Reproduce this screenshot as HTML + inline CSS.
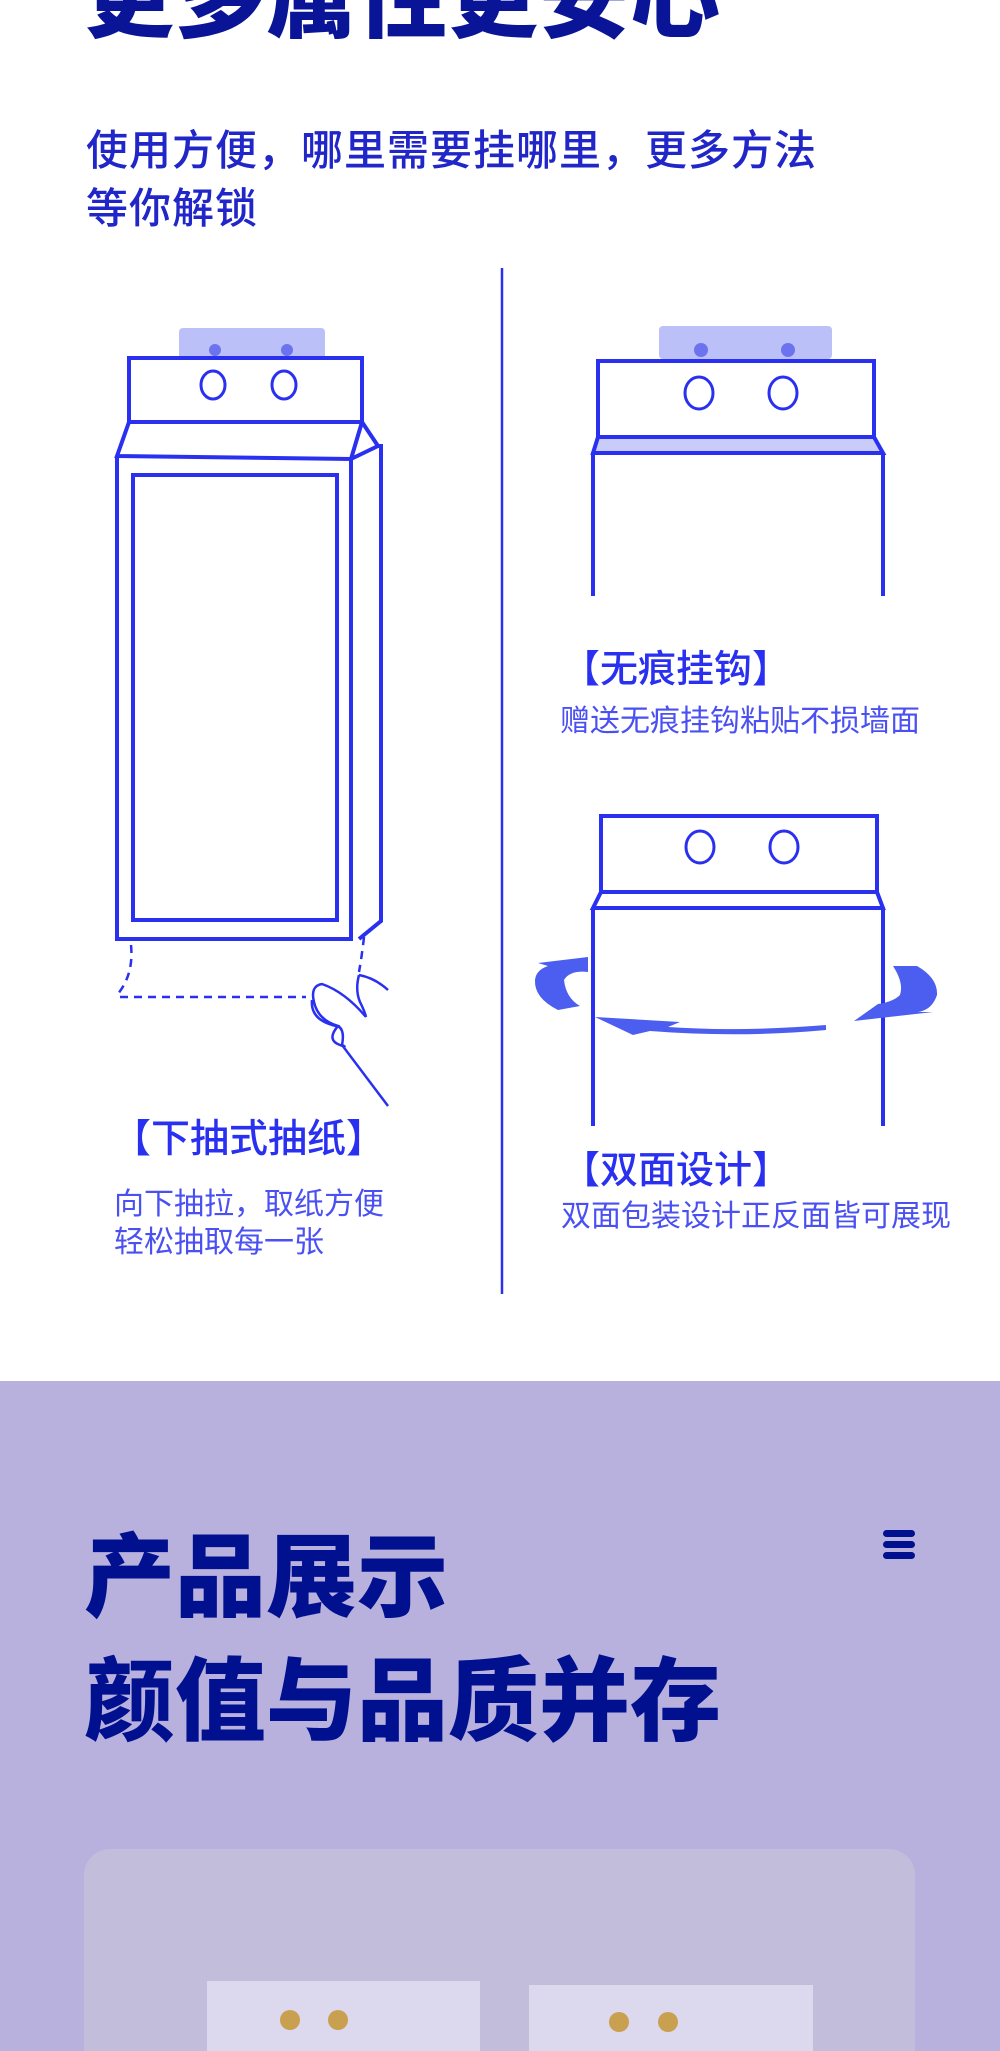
<!DOCTYPE html>
<html><head><meta charset="utf-8">
<style>
html,body{margin:0;padding:0;overflow:hidden}
body{width:1000px;height:2051px;position:relative;overflow:hidden;background:#fff;font-family:"Liberation Sans","Noto Sans CJK SC",sans-serif}
.t{position:absolute;white-space:nowrap}
</style></head><body>
<div class="t" style="left:84px;top:-50px;font-size:90px;font-weight:900;color:#0a1496;line-height:100px;letter-spacing:1px">更多属性更安心</div>
<div class="t" style="left:86px;top:122px;font-size:42px;font-weight:500;color:#2026c8;line-height:58px;letter-spacing:1px">使用方便，哪里需要挂哪里，更多方法<br>等你解锁</div>

<svg width="1000" height="1380" style="position:absolute;left:0;top:0" fill="none" stroke="#2a30f0" stroke-width="4">
<line x1="502" y1="268" x2="502" y2="1294" stroke-width="2.5"/>
<!-- left drawing -->
<rect x="179" y="328" width="146" height="32" rx="4" fill="#bcc0f8" stroke="none"/>
<circle cx="215" cy="350" r="6" fill="#6d73ee" stroke="none"/>
<circle cx="287" cy="350" r="6" fill="#6d73ee" stroke="none"/>
<rect x="129" y="358" width="233" height="64"/>
<ellipse cx="213" cy="385" rx="12" ry="14" stroke-width="3"/>
<ellipse cx="284" cy="385" rx="12" ry="14" stroke-width="3"/>
<path d="M129 422 L117 456 L351 459 L362 422 M362 422 L378 446 L351 459"/>
<path d="M117 456 L117 939 L351 939 L351 459 M378 446 L381 446 L381 921 L359 939"/>
<rect x="133" y="475" width="204" height="445"/>
<path d="M131 945 Q134 975 117 995" stroke-dasharray="8 6" stroke-width="2.5"/>
<path d="M120 997 L306 997" stroke-dasharray="8 6" stroke-width="2.5"/>
<path d="M364 937 Q362 955 359 972" stroke-dasharray="8 6" stroke-width="2.5"/>
<path d="M359 975 Q355 990 360 1002 Q365 1012 366 1017 M359 975 Q375 978 388 990" stroke-width="2.5"/>
<path d="M366 1017 Q345 992 322 984 Q310 986 314 1002 Q318 1020 338 1026 Q326 1040 340 1045 Q348 1048 342 1045 M312 1000 Q310 1020 336 1026 M338 1026 Q345 1030 342 1045 L388 1106" stroke-width="2.5"/>
<!-- right top -->
<rect x="659" y="326" width="173" height="33" rx="4" fill="#bcc0f8" stroke="none"/>
<circle cx="701" cy="350" r="7" fill="#6d73ee" stroke="none"/>
<circle cx="788" cy="350" r="7" fill="#6d73ee" stroke="none"/>
<rect x="598" y="361" width="276" height="76"/>
<ellipse cx="699" cy="393" rx="14" ry="16" stroke-width="3"/>
<ellipse cx="783" cy="393" rx="14" ry="16" stroke-width="3"/>
<path d="M598 437 L593 453 L883 453 L874 437 Z" fill="#c9ccf8"/>
<path d="M593 453 L593 596 M883 453 L883 596"/>
<!-- right bottom -->
<rect x="601" y="816" width="276" height="76"/>
<ellipse cx="700" cy="847" rx="14" ry="16" stroke-width="3"/>
<ellipse cx="784" cy="847" rx="14" ry="16" stroke-width="3"/>
<path d="M601 892 L593 908 L883 908 L877 892 Z" fill="#fff"/>
<path d="M593 908 L593 1126 M883 908 L883 1126"/>
<g fill="#4c5ef0" stroke="none">
<path d="M538 963 L588 957 L588 972 Q570 970 564 980 Q566 998 580 1006 L558 1010 Q534 998 535 980 Q536 970 548 966 Z"/>
<path d="M893 966 L917 966 Q938 978 937 995 Q932 1010 918 1012 L933 1012 L854 1021 L878 1004 Q893 1002 900 995 Q904 983 893 966 Z"/>
<path d="M595 1017 L680 1022 L668 1027 Q740 1032 826 1025 L826 1030 Q740 1038 650 1031 L633 1035 Z"/>
</g>
</svg>

<div class="t" style="left:112px;top:1117px;font-size:39px;font-weight:500;color:#2a30f0;line-height:46px">【下抽式抽纸】</div>
<div class="t" style="left:114px;top:1186px;font-size:30px;color:#4a50f2;line-height:38px">向下抽拉，取纸方便<br>轻松抽取每一张</div>
<div class="t" style="left:562px;top:647px;font-size:38px;font-weight:500;color:#2a30f0;line-height:46px">【无痕挂钩】</div>
<div class="t" style="left:560px;top:703px;font-size:30px;color:#4a50f2;line-height:38px">赠送无痕挂钩粘贴不损墙面</div>
<div class="t" style="left:562px;top:1148px;font-size:38px;font-weight:500;color:#2a30f0;line-height:46px">【双面设计】</div>
<div class="t" style="left:561px;top:1198px;font-size:30px;color:#4a50f2;line-height:38px">双面包装设计正反面皆可展现</div>

<div style="position:absolute;left:0;top:1381px;width:1000px;height:670px;background:#b8b1dd"></div>
<div class="t" style="left:84px;top:1517px;font-size:91px;font-weight:900;color:#00108f;line-height:124px">产品展示<br>颜值与品质并存</div>
<div style="position:absolute;left:883px;top:1530px;width:32px;height:7px;background:#00108f;border-radius:4px"></div>
<div style="position:absolute;left:883px;top:1541px;width:32px;height:7px;background:#00108f;border-radius:4px"></div>
<div style="position:absolute;left:883px;top:1552px;width:32px;height:7px;background:#00108f;border-radius:4px"></div>
<div style="position:absolute;left:84px;top:1849px;width:831px;height:202px;background:#c3bddc;border-radius:26px 26px 0 0"></div>
<div style="position:absolute;left:207px;top:1981px;width:273px;height:70px;background:#dcd9ee"></div>
<div style="position:absolute;left:529px;top:1985px;width:284px;height:66px;background:#dcd9ee"></div>
<div style="position:absolute;left:280px;top:2010px;width:20px;height:20px;border-radius:50%;background:#c9a050"></div>
<div style="position:absolute;left:328px;top:2010px;width:20px;height:20px;border-radius:50%;background:#c9a050"></div>
<div style="position:absolute;left:609px;top:2012px;width:20px;height:20px;border-radius:50%;background:#c9a050"></div>
<div style="position:absolute;left:658px;top:2012px;width:20px;height:20px;border-radius:50%;background:#c9a050"></div>
</body></html>
